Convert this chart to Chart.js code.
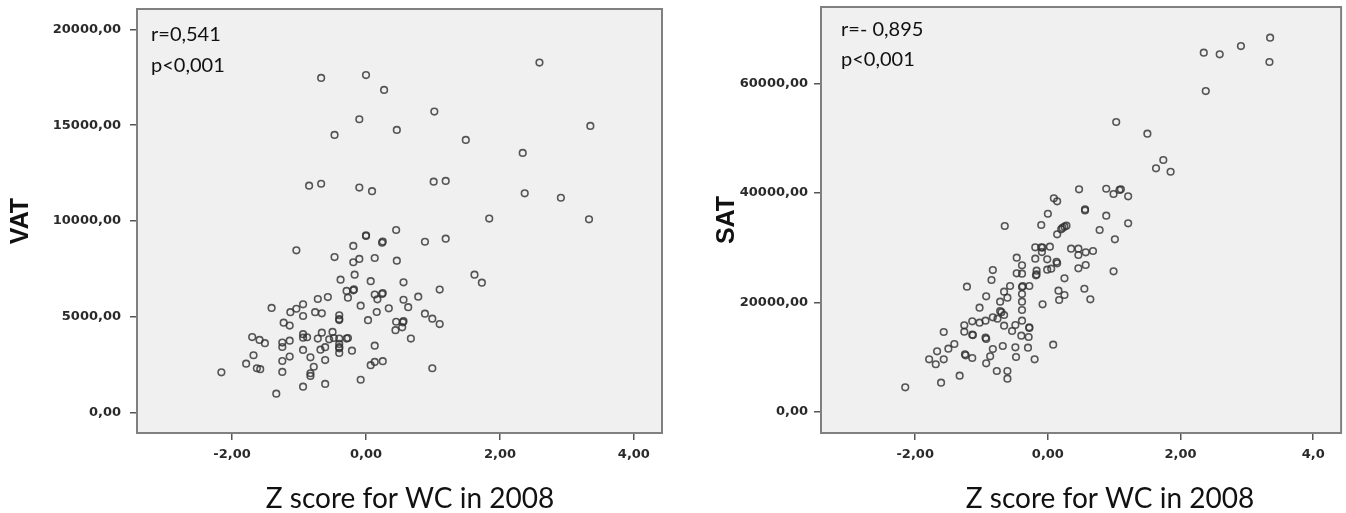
<!DOCTYPE html>
<html><head><meta charset="utf-8">
<script src="https://cdn.jsdelivr.net/npm/chart.js@4.4.1/dist/chart.umd.min.js"></script>
<style>
html,body{margin:0;padding:0;background:#fff;overflow:hidden;width:1346px;height:513px}
.box{position:absolute;top:0;width:673px;height:513px}
#b1{left:0}#b2{left:673px}
canvas{display:block}
</style></head><body>
<div class="box" id="b1"><canvas id="c1"></canvas></div>
<div class="box" id="b2"><canvas id="c2"></canvas></div>
<script>
// ---- data ----
const xTicks = [-2, 0, 2, 4];
const xTickLabelsVAT = ["-2,00", "0,00", "2,00", "4,00"];
const xTickLabelsSAT = ["-2,00", "0,00", "2,00", "4,0"];
const vatTicks = [0, 5000, 10000, 15000, 20000];
const vatTickLabels = ["0,00", "5000,00", "10000,00", "15000,00", "20000,00"];
const satTicks = [0, 20000, 40000, 60000];
const satTickLabels = ["0,00", "20000,00", "40000,00", "60000,00"];
const xAxisTitle = "Z score for WC in 2008";
const statsVAT = ["r=0,541", "p<0,001"];
const statsSAT = ["r=- 0,895", "p<0,001"];

const zScoreVAT = [-0.67,0.00,0.27,2.59,1.02,-0.10,-0.47,0.46,1.49,3.35,2.34,-0.85,-0.67,-0.10,0.09,1.01,1.19,2.37,2.91,1.84,3.33,
0.45,0.00,0.00,0.24,0.25,0.88,1.19,-0.19,-1.04,-0.47,-0.19,-0.10,0.13,0.46,-0.17,-0.38,0.07,0.56,1.62,1.73,1.10,-0.29,-0.19,-0.18,
-0.27,0.13,0.24,0.25,0.17,-0.57,-0.72,0.78,0.56,-0.08,0.34,0.63,-1.41,-1.04,-0.94,-1.13,-0.94,-0.76,-0.66,0.16,-0.40,-0.40,-0.40,
0.03,0.88,0.99,1.10,0.45,0.56,0.55,0.54,0.44,0.67,-1.23,-1.14,-1.70,-1.59,-1.51,-1.25,-1.14,-1.25,-0.94,-0.88,-0.94,-0.72,-0.66,
-0.50,-0.55,-0.48,-0.40,-0.29,-0.27,-0.40,-0.40,-0.40,-0.40,-0.61,-0.68,-0.94,-0.21,0.13,-1.68,-1.14,-0.83,-1.25,-0.61,-1.79,-1.63,
-1.58,-0.78,-1.25,-2.16,-0.83,-0.83,0.07,0.13,0.25,0.99,-0.08,-0.94,-0.61,-1.34];
const vatValues = [17470,17620,16840,18270,15710,15310,14490,14750,14230,14960,13550,11840,11940,11740,11550,12050,12090,11440,11210,10120,10080,
9525,9210,9250,8860,8920,8910,9070,8690,8460,8110,7840,8010,8060,7920,7190,6930,6850,6790,7190,6770,6410,6340,6370,6420,
5990,6150,6180,6230,5900,6020,5920,6040,5880,5570,5430,5490,5450,5410,5640,5230,5030,5230,5170,5240,5070,4820,4870,
4810,5150,4890,4610,4730,4760,4700,4440,4290,3850,4680,4530,3930,3780,3610,3640,3740,3410,4080,3920,3900,3850,4160,
4200,3810,3880,3850,3850,3880,3570,3340,3400,3100,3400,3270,3260,3220,3480,2980,2910,2870,2680,2730,2540,2300,
2250,2380,2110,2090,2040,1900,2460,2630,2670,2300,1700,1340,1480,970];

const zScoreSAT = [2.35,2.59,2.91,3.35,3.34,2.38,1.03,1.50,1.74,1.63,1.85,0.47,0.88,1.10,1.08,0.99,1.21,0.09,0.14,0.56,0.56,0.00,0.88,
-0.65,-0.10,0.25,0.28,0.22,0.20,0.14,1.21,0.78,1.01,-0.19,-0.10,-0.08,0.03,-0.09,-0.19,-0.01,-0.47,-0.39,-0.47,-0.39,-0.83,-0.85,
-0.17,-0.18,-0.17,-0.01,0.05,0.14,0.13,0.35,0.46,0.46,0.57,0.68,0.46,0.57,0.25,0.99,0.55,0.64,0.16,0.25,0.17,-0.08,-1.22,-0.93,
-0.66,-0.57,-0.61,-0.39,-0.38,-0.28,-0.39,-0.39,-0.39,-0.72,-0.72,-0.70,-0.66,-1.03,-0.83,-0.76,-0.94,-1.03,-1.14,-1.26,-1.26,
-1.14,-1.13,-0.94,-0.93,-0.66,-0.49,-0.54,-0.39,-0.28,-0.28,-0.40,-0.29,-1.57,-1.41,-1.50,-1.67,-1.57,-1.79,-1.69,-1.25,-1.24,
-1.14,-1.33,-1.61,-2.15,-0.68,-0.83,-0.87,-0.93,-0.49,-0.48,-0.30,-0.20,0.08,-0.77,-0.61,-0.61];
const satValues = [65630,65330,66850,68370,63930,58620,52960,50820,46010,44490,43870,40660,40760,40660,40550,39800,39380,39010,38460,37000,36800,36190,35830,
33950,34130,33820,34000,33600,33340,32430,34440,33220,31520,30050,30050,30000,30160,29190,27970,27860,28150,26760,25300,25230,25900,24080,
25780,24930,25100,25960,26140,27130,27400,29800,29800,28650,29140,29380,26210,26820,24390,25670,22480,20550,22120,21330,20420,19630,22850,21100,
21940,22980,20840,22800,22950,22980,21520,20110,18590,20110,18410,18200,17680,19010,17260,17000,16640,16270,16530,15790,14620,
14080,14000,13530,13300,15720,15850,14750,16640,15430,15300,13890,13660,14570,12380,11520,11040,9580,9580,8670,10490,10300,
9820,6580,5300,4460,12010,11460,10130,8850,11770,10000,11700,9580,12250,7440,7440,6030];

// ---- drawing ----
const panelPlugin = {
  id: 'panel',
  beforeDraw(chart, args, o) {
    const a = chart.chartArea, ctx = chart.ctx;
    ctx.save();
    ctx.fillStyle = '#f0f0f0';
    ctx.fillRect(a.left, a.top, a.right - a.left, a.bottom - a.top);
    ctx.restore();
  },
  afterDraw(chart, args, o) {
    const a = chart.chartArea, ctx = chart.ctx;
    ctx.save();
    ctx.strokeStyle = '#808080';
    ctx.lineWidth = 2;
    ctx.strokeRect(a.left, a.top, a.right - a.left, a.bottom - a.top);
    ctx.fillStyle = '#111';
    ctx.textBaseline = 'alphabetic';
    ctx.textAlign = 'left';
    ctx.font = '20px Lato';
    o.stats.forEach((t, i) => ctx.fillText(t, o.statsX, o.statsY[i]));
    ctx.textAlign = 'center';
    ctx.font = '28px Lato';
    ctx.fillText(o.xTitle, o.xTitleX, o.xTitleY);
    ctx.restore();
  }
};

function makeChart(id, xs, ys, cfg) {
  const pts = xs.map((x, i) => ({x: x, y: ys[i]}));
  const tickFont = {family: 'DejaVu Sans', size: 13, weight: 'bold'};
  return new Chart(document.getElementById(id), {
    type: 'scatter',
    data: {datasets: [{data: pts, pointStyle: 'circle', pointRadius: 3.3, pointHoverRadius: 3.3,
      borderWidth: 1.6, borderColor: 'rgba(50,50,50,0.82)', backgroundColor: 'rgba(0,0,0,0)'}]},
    options: {
      responsive: true, maintainAspectRatio: false, animation: false,
      layout: {padding: {top: cfg.padTop, right: cfg.padRight, left: 0, bottom: 0}},
      plugins: {legend: {display: false}, tooltip: {enabled: false},
        panel: {stats: cfg.stats, statsX: cfg.statsX, statsY: cfg.statsY, xTitle: xAxisTitle, xTitleX: cfg.xTitleX, xTitleY: 508}},
      scales: {
        x: {
          type: 'linear', min: -3.42, max: 4.42,
          afterBuildTicks: s => { s.ticks = xTicks.map(v => ({value: v})); },
          afterFit: s => { s.height = 80; s.paddingLeft = 0; s.paddingRight = 0; },
          ticks: {callback: (v, i) => cfg.xLabels[i], font: tickFont, color: '#2a2a2a', padding: 7, maxRotation: 0, autoSkip: false},
          grid: {display: true, drawOnChartArea: false, drawTicks: true, tickLength: 7, color: '#555', lineWidth: 1.5},
          border: {display: false}
        },
        y: {
          type: 'linear', min: cfg.yMin, max: cfg.yMax,
          afterBuildTicks: s => { s.ticks = cfg.yTicks.map(v => ({value: v})); },
          afterFit: s => { s.width = cfg.yWidth; s.paddingTop = 0; s.paddingBottom = 0; },
          ticks: {callback: (v, i) => cfg.yLabels[i], font: tickFont, color: '#2a2a2a', padding: cfg.yPad, autoSkip: false},
          grid: {display: true, drawOnChartArea: false, drawTicks: true, tickLength: 7, color: '#555', lineWidth: 1.5},
          border: {display: false},
          title: {display: true, text: cfg.yTitle, color: '#111',
            font: {family: 'Liberation Sans', size: 25, weight: 'bold'}, padding: {top: cfg.yTitlePad, bottom: 0}}
        }
      }
    },
    plugins: [panelPlugin]
  });
}

makeChart('c1', zScoreVAT, vatValues, {
  padTop: 9, padRight: 11, yWidth: 137, yPad: 9, yTitlePad: 6,
  yMin: -1082, yMax: 21070, yTicks: vatTicks, yLabels: vatTickLabels, yTitle: 'VAT',
  xLabels: xTickLabelsVAT, stats: statsVAT, statsX: 151, statsY: [41, 72], xTitleX: 410
});
makeChart('c2', zScoreSAT, satValues, {
  padTop: 7, padRight: 0, yWidth: 148, yPad: 6, yTitlePad: 39,
  yMin: -3894, yMax: 73985, yTicks: satTicks, yLabels: satTickLabels, yTitle: 'SAT',
  xLabels: xTickLabelsSAT, stats: statsSAT, statsX: 168, statsY: [36, 66], xTitleX: 437
});
</script>
</body></html>
